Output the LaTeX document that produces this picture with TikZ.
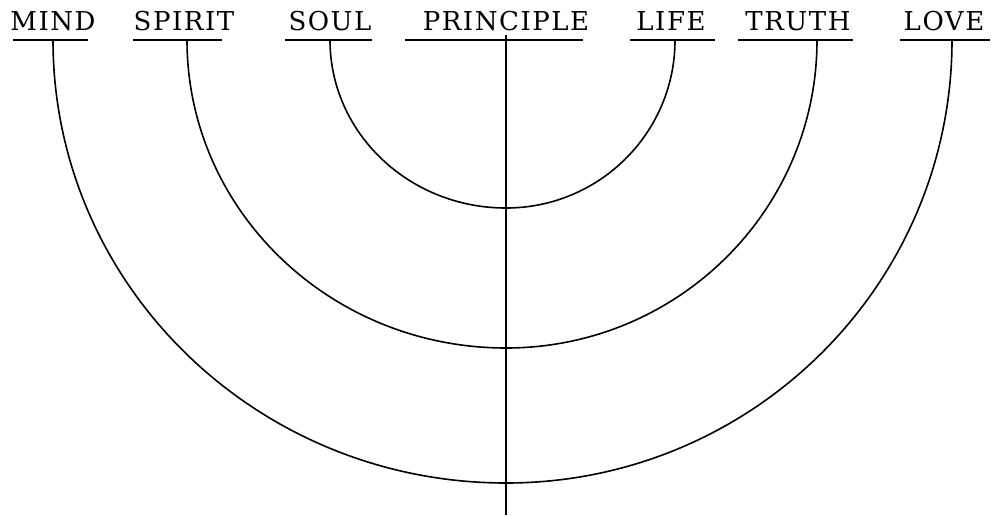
\documentclass[tikz,border=0pt]{standalone}
\usepackage{fontspec}
\setmainfont{DejaVu Serif}[LetterSpace=6]
\begin{document}
\begin{tikzpicture}[x=1pt,y=1pt,
  word/.style={font=\fontsize{26}{26}\selectfont, anchor=base, inner sep=0pt},
  uline/.style={line width=1.7pt},
  curve/.style={line width=1.6pt}]
\useasboundingbox (0,0) rectangle (995,-515);
% words
\node[word] (mind) at (53,-30) {MIND};
\node[word] (spirit) at (184,-30) {SPIRIT};
\node[word] (soul) at (330,-30) {SOUL};
\node[word] (principle) at (506,-30) {PRINCIPLE};
\node[word] (life) at (671,-30) {LIFE};
\node[word] (truth) at (798,-30) {TRUTH};
\node[word] (love) at (944,-30) {LOVE};
% underlines
\draw[uline] (13,-40) -- (88,-40);
\draw[uline] (133,-40) -- (222,-40);
\draw[uline] (285,-40) -- (372,-40);
\draw[uline] (405,-40) -- (583,-40);
\draw[uline] (630,-40) -- (715,-40);
\draw[uline] (738,-40) -- (853,-40);
\draw[uline] (900,-40) -- (990,-40);
% leg points
\coordinate (mindleg) at (53,-40);
\coordinate (spiritleg) at (187,-40);
\coordinate (soulleg) at (330,-40);
\coordinate (lifeleg) at (675,-40);
\coordinate (truthleg) at (817,-40);
\coordinate (loveleg) at (952,-40);
\coordinate (ptop) at (506,-35);
\coordinate (pbottom) at (506,-515);
% arcs
\draw[curve] (mindleg) arc[start angle=180, end angle=270, x radius=453pt, y radius=443pt]
  arc[start angle=270, end angle=360, x radius=446pt, y radius=443pt];
\draw[curve] (spiritleg) arc[start angle=180, end angle=270, x radius=319pt, y radius=308pt]
  arc[start angle=270, end angle=360, x radius=311pt, y radius=308pt];
\draw[curve] (soulleg) arc[start angle=180, end angle=270, x radius=176pt, y radius=168pt]
  arc[start angle=270, end angle=360, x radius=169pt, y radius=168pt];
% vertical
\draw[curve] (ptop) -- (pbottom);
\end{tikzpicture}
\end{document}
